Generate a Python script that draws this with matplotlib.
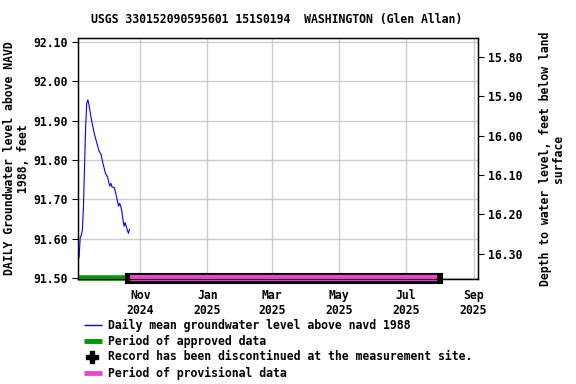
import matplotlib
matplotlib.use("Agg")
import matplotlib.pyplot as plt
from matplotlib.lines import Line2D
import datetime as dt

title = "USGS 330152090595601 151S0194  WASHINGTON (Glen Allan)"
start_date = dt.date(2024, 9, 6)
levels = [91.552, 91.603, 91.609, 91.622, 91.683, 91.786, 91.887, 91.945, 91.953, 91.940,
          91.924, 91.907, 91.892, 91.879, 91.866, 91.856, 91.845, 91.835, 91.825, 91.819,
          91.815, 91.801, 91.789, 91.778, 91.766, 91.762, 91.757, 91.744, 91.734, 91.741,
          91.732, 91.731, 91.730, 91.721, 91.708, 91.696, 91.683, 91.690, 91.683, 91.670,
          91.649, 91.632, 91.641, 91.632, 91.622, 91.614, 91.624]
dates = [start_date + dt.timedelta(days=i) for i in range(len(levels))]

approved_period = [dt.date(2024, 9, 5), dt.date(2024, 10, 21)]
provisional_period = [dt.date(2024, 10, 22), dt.date(2025, 7, 30)]
datum_offset = 107.862  # depth = offset - level

left_ticks = [91.50, 91.60, 91.70, 91.80, 91.90, 92.00, 92.10]
right_ticks = [15.80, 15.90, 16.00, 16.10, 16.20, 16.30]
x_ticks = [dt.date(2024, 11, 1), dt.date(2025, 1, 1), dt.date(2025, 3, 1),
           dt.date(2025, 5, 1), dt.date(2025, 7, 1), dt.date(2025, 9, 1)]
x_ticklabels = ["Nov\n2024", "Jan\n2025", "Mar\n2025", "May\n2025", "Jul\n2025", "Sep\n2025"]

legend_labels = ["Daily mean groundwater level above navd 1988",
                 "Period of approved data",
                 "Record has been discontinued at the measurement site.",
                 "Period of provisional data"]

plt.rcParams['font.family'] = ['DejaVu Sans Mono']
plt.rcParams['font.weight'] = 'bold'
fs = 8.3

fig = plt.figure(figsize=(5.76, 3.84), dpi=100)
ax = fig.add_axes([78/576, 1-279/384, 400/576, 241/384])

ybot = 91.498
ytop = 92.11
ax.set_ylim(ybot, ytop)
ax.set_xlim(dt.date(2024, 9, 5), dt.date(2025, 9, 5))

ax.plot(dates, levels, color='#0000ff', lw=0.8, zorder=3)
ax.plot(approved_period, [ybot+0.002]*2, color='#009900', lw=4, solid_capstyle='butt', zorder=4, clip_on=False)
ax.plot(provisional_period, [ybot+0.002]*2, color='black', lw=8, solid_capstyle='projecting', zorder=4, clip_on=False)
ax.plot(provisional_period, [ybot+0.002]*2, color='#ee44cc', lw=4.5, solid_capstyle='butt', zorder=5, clip_on=False)

ax.set_yticks(left_ticks)
ax.set_yticklabels([f"{v:.2f}" for v in left_ticks], fontsize=fs, fontweight='bold')
ax.set_xticks(x_ticks)
ax.set_xticklabels(x_ticklabels, fontsize=fs, fontweight='bold', linespacing=1.2)
ax.tick_params(axis='x', length=0, pad=7)
ax.tick_params(axis='y', length=4, direction='out')
ax.grid(True, color='#cccccc', lw=1)
ax.set_axisbelow(True)
for s in ax.spines.values():
    s.set_linewidth(1.0)

ax.set_ylabel("DAILY Groundwater level above NAVD\n1988, feet", fontsize=fs, fontweight='bold',
              labelpad=2, linespacing=1.1)

ax2 = ax.twinx()
ax2.set_ylim(datum_offset - ybot, datum_offset - ytop)
ax2.set_yticks(right_ticks)
ax2.set_yticklabels([f"{v:.2f}" for v in right_ticks], fontsize=fs, fontweight='bold')
ax2.tick_params(axis='y', length=4, direction='out')
ax2.set_ylabel("Depth to water level, feet below land\nsurface", fontsize=fs, fontweight='bold',
               labelpad=12, linespacing=1.0)

fig.text(277/576, 1-19/384, title, ha='center', va='center', fontsize=fs, fontweight='bold')

# legend, drawn manually in figure pixels
W, H = 576, 384
row_y = [325, 341, 357, 373]
handle_styles = [dict(color='#0000ff', lw=1),
                 dict(color='#009900', lw=3.5),
                 None,
                 dict(color='#ee44cc', lw=3.5)]
for yy, lab, st in zip(row_y, legend_labels, handle_styles):
    yf = 1 - yy / H
    if st is None:
        fig.add_artist(Line2D([92 / W], [yf], color='black', lw=0, marker='P', markersize=8,
                              transform=fig.transFigure))
    else:
        fig.add_artist(Line2D([84 / W, 102 / W], [yf, yf], solid_capstyle='butt',
                              transform=fig.transFigure, **st))
    fig.text(108 / W, yf, lab, ha='left', va='center', fontsize=fs, fontweight='bold')

fig.savefig("out.png", dpi=100)
